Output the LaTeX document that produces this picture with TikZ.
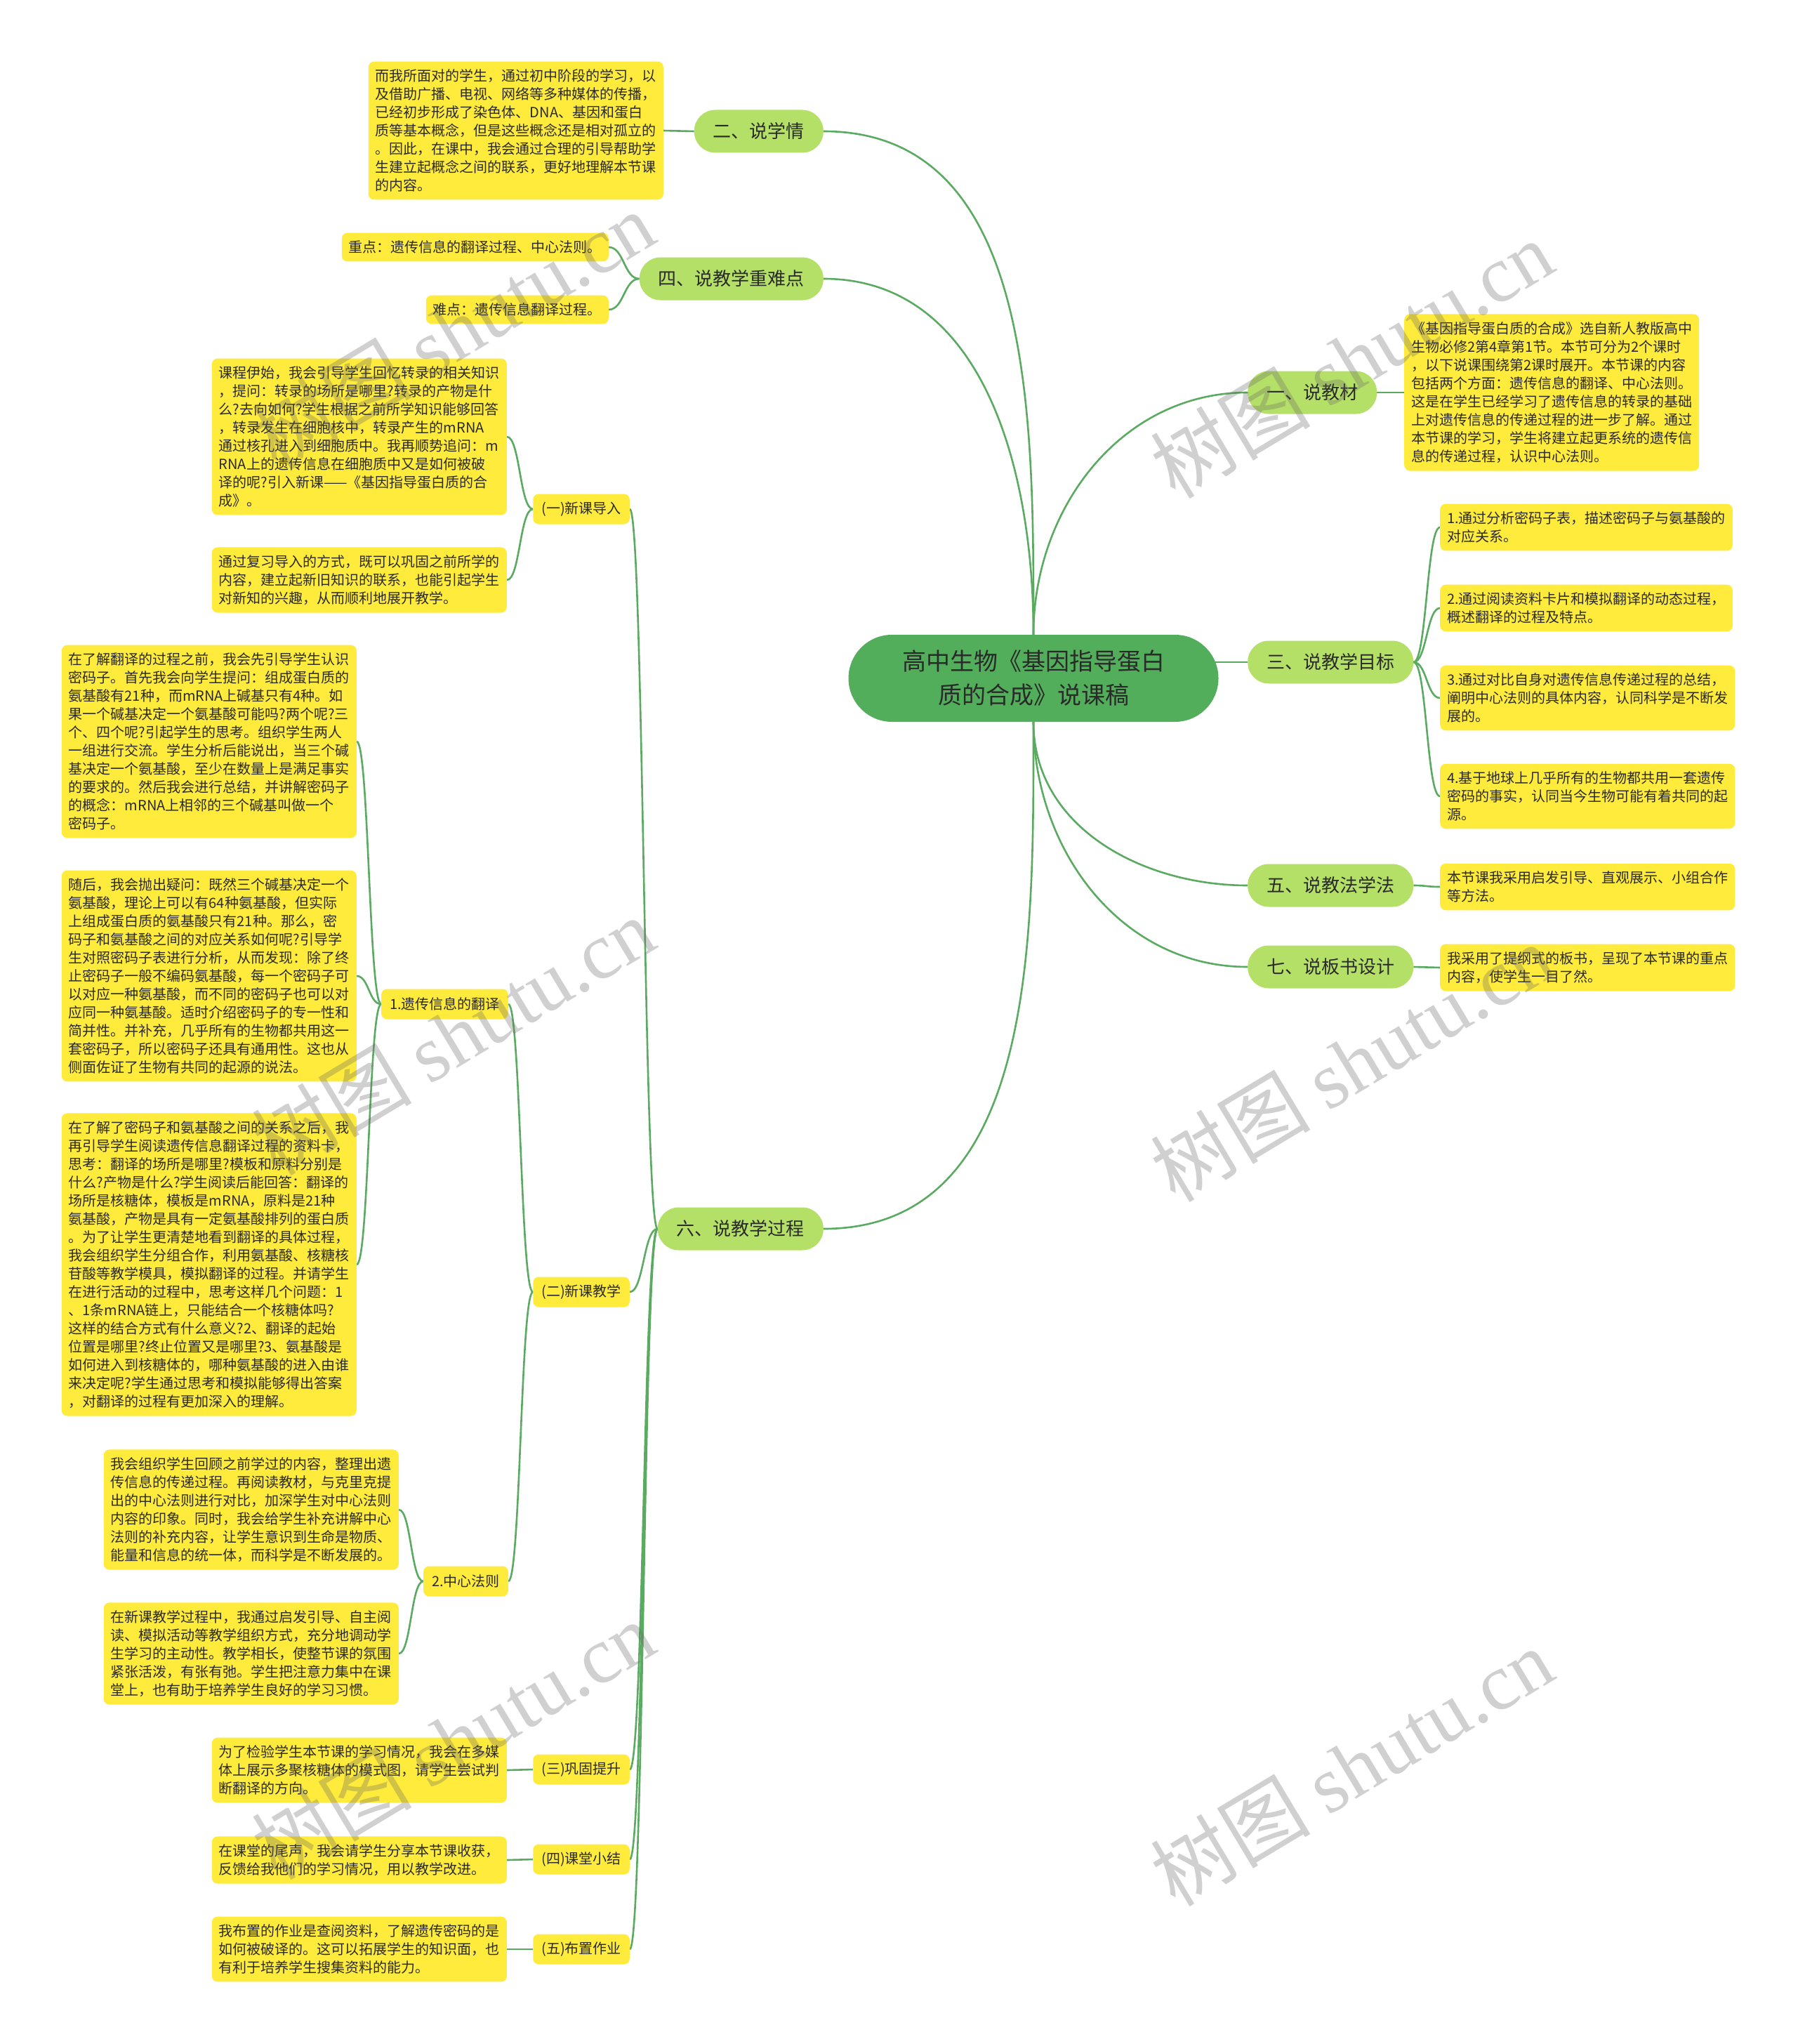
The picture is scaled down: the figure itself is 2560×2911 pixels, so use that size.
\documentclass[tikz,border=0pt]{standalone}
\usepackage{fontspec}
\setmainfont{Noto Sans CJK SC}
\newfontfamily\wmlatin{Liberation Serif}
\usetikzlibrary{calc}
\definecolor{rootg}{HTML}{52AE5A}
\definecolor{lgreen}{HTML}{B5E068}
\definecolor{yel}{HTML}{FFEB3B}
\definecolor{linkc}{HTML}{5AAA62}
\definecolor{txt}{HTML}{2A2A2A}
\pgfdeclarelayer{bg}
\pgfsetlayers{bg,main}
\newcommand\mmlink[2]{\draw[link] let \p1=(#1), \p2=(#2) in (\p1) .. controls ({(\x1+\x2)/2},\y1) and ({(\x1+\x2)/2},\y2) .. (\p2);}
\begin{document}
\begin{tikzpicture}[x=1pt,y=-1pt,
  root/.style={fill=rootg, rounded corners=62pt, minimum width=527pt, minimum height=124pt, align=center, text=txt, font=\fontsize{34}{48}\selectfont},
  lvone/.style={fill=lgreen, rounded corners=30pt, minimum height=61pt, inner xsep=27pt, text=txt, font=\fontsize{26}{30}\selectfont},
  lvtwo/.style={fill=yel, rounded corners=8pt, minimum height=43pt, inner xsep=12pt, text=txt, font=\fontsize{20}{26}\selectfont},
  leaf/.style={fill=yel, rounded corners=8pt, inner xsep=10pt, inner ysep=11pt, align=left, text=txt, font=\fontsize{20}{26}\selectfont},
  link/.style={draw=linkc, line width=2.6pt},
  wm/.style={text=black!60, text opacity=0.3, font=\fontsize{114}{118}\selectfont, rotate=31}
]
\useasboundingbox (0,0) rectangle (2560,2911);

% root
\node[root] (root) at (1472,966) {高中生物《基因指导蛋白\\质的合成》说课稿};

% level one
\node[lvone, anchor=east] (n2) at (1173,187) {二、说学情};
\node[lvone, anchor=east] (n4) at (1173,397) {四、说教学重难点};
\node[lvone, anchor=east] (n6) at (1173,1750) {六、说教学过程};
\node[lvone, anchor=west] (n1) at (1777,559) {一、说教材};
\node[lvone, anchor=west] (n3) at (1777,943) {三、说教学目标};
\node[lvone, anchor=west] (n5) at (1777,1261) {五、说教法学法};
\node[lvone, anchor=west] (n7) at (1777,1377) {七、说板书设计};

% 二
\node[leaf, anchor=east] (a1) at (945,186) {而我所面对的学生，通过初中阶段的学习，以\\及借助广播、电视、网络等多种媒体的传播，\\已经初步形成了染色体、DNA、基因和蛋白\\质等基本概念，但是这些概念还是相对孤立的\\。因此，在课中，我会通过合理的引导帮助学\\生建立起概念之间的联系，更好地理解本节课\\的内容。};

% 四
\node[leaf, anchor=east] (b1) at (867,352) {重点：遗传信息的翻译过程、中心法则。};
\node[leaf, anchor=east] (b2) at (867,441) {难点：遗传信息翻译过程。};

% 六 level two
\node[lvtwo, anchor=east] (s1) at (897,725) {(一)新课导入};
\node[lvtwo, anchor=east] (s2) at (897,1840) {(二)新课教学};
\node[lvtwo, anchor=east] (s3) at (897,2520) {(三)巩固提升};
\node[lvtwo, anchor=east] (s4) at (897,2648) {(四)课堂小结};
\node[lvtwo, anchor=east] (s5) at (897,2776) {(五)布置作业};
\node[lvtwo, anchor=east] (t1) at (724,1430) {1.遗传信息的翻译};
\node[lvtwo, anchor=east] (t2) at (724,2252) {2.中心法则};

% (一)
\node[leaf, anchor=east] (c1) at (722,622) {课程伊始，我会引导学生回忆转录的相关知识\\，提问：转录的场所是哪里?转录的产物是什\\么?去向如何?学生根据之前所学知识能够回答\\，转录发生在细胞核中，转录产生的mRNA\\通过核孔进入到细胞质中。我再顺势追问：m\\RNA上的遗传信息在细胞质中又是如何被破\\译的呢?引入新课——《基因指导蛋白质的合\\成》。};
\node[leaf, anchor=east] (c2) at (722,826) {通过复习导入的方式，既可以巩固之前所学的\\内容，建立起新旧知识的联系，也能引起学生\\对新知的兴趣，从而顺利地展开教学。};

% 1.
\node[leaf, anchor=east] (d1) at (508,1056) {在了解翻译的过程之前，我会先引导学生认识\\密码子。首先我会向学生提问：组成蛋白质的\\氨基酸有21种，而mRNA上碱基只有4种。如\\果一个碱基决定一个氨基酸可能吗?两个呢?三\\个、四个呢?引起学生的思考。组织学生两人\\一组进行交流。学生分析后能说出，当三个碱\\基决定一个氨基酸，至少在数量上是满足事实\\的要求的。然后我会进行总结，并讲解密码子\\的概念：mRNA上相邻的三个碱基叫做一个\\密码子。};
\node[leaf, anchor=east] (d2) at (508,1390) {随后，我会抛出疑问：既然三个碱基决定一个\\氨基酸，理论上可以有64种氨基酸，但实际\\上组成蛋白质的氨基酸只有21种。那么，密\\码子和氨基酸之间的对应关系如何呢?引导学\\生对照密码子表进行分析，从而发现：除了终\\止密码子一般不编码氨基酸，每一个密码子可\\以对应一种氨基酸，而不同的密码子也可以对\\应同一种氨基酸。适时介绍密码子的专一性和\\简并性。并补充，几乎所有的生物都共用这一\\套密码子，所以密码子还具有通用性。这也从\\侧面佐证了生物有共同的起源的说法。};
\node[leaf, anchor=east] (d3) at (508,1801) {在了解了密码子和氨基酸之间的关系之后，我\\再引导学生阅读遗传信息翻译过程的资料卡，\\思考：翻译的场所是哪里?模板和原料分别是\\什么?产物是什么?学生阅读后能回答：翻译的\\场所是核糖体，模板是mRNA，原料是21种\\氨基酸，产物是具有一定氨基酸排列的蛋白质\\。为了让学生更清楚地看到翻译的具体过程，\\我会组织学生分组合作，利用氨基酸、核糖核\\苷酸等教学模具，模拟翻译的过程。并请学生\\在进行活动的过程中，思考这样几个问题：1\\、1条mRNA链上，只能结合一个核糖体吗?\\这样的结合方式有什么意义?2、翻译的起始\\位置是哪里?终止位置又是哪里?3、氨基酸是\\如何进入到核糖体的，哪种氨基酸的进入由谁\\来决定呢?学生通过思考和模拟能够得出答案\\，对翻译的过程有更加深入的理解。};

% 2.
\node[leaf, anchor=east] (e1) at (568,2150) {我会组织学生回顾之前学过的内容，整理出遗\\传信息的传递过程。再阅读教材，与克里克提\\出的中心法则进行对比，加深学生对中心法则\\内容的印象。同时，我会给学生补充讲解中心\\法则的补充内容，让学生意识到生命是物质、\\能量和信息的统一体，而科学是不断发展的。};
\node[leaf, anchor=east] (e2) at (568,2355) {在新课教学过程中，我通过启发引导、自主阅\\读、模拟活动等教学组织方式，充分地调动学\\生学习的主动性。教学相长，使整节课的氛围\\紧张活泼，有张有弛。学生把注意力集中在课\\堂上，也有助于培养学生良好的学习习惯。};

% (三)(四)(五)
\node[leaf, anchor=east] (f1) at (722,2521) {为了检验学生本节课的学习情况，我会在多媒\\体上展示多聚核糖体的模式图，请学生尝试判\\断翻译的方向。};
\node[leaf, anchor=east] (f2) at (722,2649) {在课堂的尾声，我会请学生分享本节课收获，\\反馈给我他们的学习情况，用以教学改进。};
\node[leaf, anchor=east] (f3) at (722,2776) {我布置的作业是查阅资料，了解遗传密码的是\\如何被破译的。这可以拓展学生的知识面，也\\有利于培养学生搜集资料的能力。};

% right leaves
\node[leaf, anchor=west] (g1) at (2000,559) {《基因指导蛋白质的合成》选自新人教版高中\\生物必修2第4章第1节。本节可分为2个课时\\，以下说课围绕第2课时展开。本节课的内容\\包括两个方面：遗传信息的翻译、中心法则。\\这是在学生已经学习了遗传信息的转录的基础\\上对遗传信息的传递过程的进一步了解。通过\\本节课的学习，学生将建立起更系统的遗传信\\息的传递过程，认识中心法则。};
\node[leaf, anchor=west] (h1) at (2051,751) {1.通过分析密码子表，描述密码子与氨基酸的\\对应关系。};
\node[leaf, anchor=west] (h2) at (2051,866) {2.通过阅读资料卡片和模拟翻译的动态过程，\\概述翻译的过程及特点。};
\node[leaf, anchor=west] (h3) at (2051,994) {3.通过对比自身对遗传信息传递过程的总结，\\阐明中心法则的具体内容，认同科学是不断发\\展的。};
\node[leaf, anchor=west] (h4) at (2051,1134) {4.基于地球上几乎所有的生物都共用一套遗传\\密码的事实，认同当今生物可能有着共同的起\\源。};
\node[leaf, anchor=west] (k1) at (2051,1263) {本节课我采用启发引导、直观展示、小组合作\\等方法。};
\node[leaf, anchor=west] (m1) at (2051,1378) {我采用了提纲式的板书，呈现了本节课的重点\\内容，使学生一目了然。};

\begin{pgfonlayer}{bg}
\fill[white] (0,0) rectangle (2560,2911);
% root links
\draw[link] (root.north) to[out=90,in=0] (n2.east);
\draw[link] (root.north) to[out=90,in=0] (n4.east);
\draw[link] (root.south) to[out=-90,in=0] (n6.east);
\draw[link] (root.north) to[out=90,in=180] (n1.west);
\draw[link] (n3.west) -- ([xshift=-10pt]n3.west -| root.east);
\draw[link] (root.south) to[out=-90,in=180] (n5.west);
\draw[link] (root.south) to[out=-90,in=180] (n7.west);
% branches
\mmlink{n2.west}{a1.east}
\mmlink{n4.west}{b1.east}
\mmlink{n4.west}{b2.east}
\mmlink{n6.west}{s1.east}
\mmlink{n6.west}{s2.east}
\mmlink{n6.west}{s3.east}
\mmlink{n6.west}{s4.east}
\mmlink{n6.west}{s5.east}
\mmlink{s1.west}{c1.east}
\mmlink{s1.west}{c2.east}
\mmlink{s2.west}{t1.east}
\mmlink{s2.west}{t2.east}
\mmlink{t1.west}{d1.east}
\mmlink{t1.west}{d2.east}
\mmlink{t1.west}{d3.east}
\mmlink{t2.west}{e1.east}
\mmlink{t2.west}{e2.east}
\mmlink{s3.west}{f1.east}
\mmlink{s4.west}{f2.east}
\mmlink{s5.west}{f3.east}
\mmlink{n1.east}{g1.west}
\mmlink{n3.east}{h1.west}
\mmlink{n3.east}{h2.west}
\mmlink{n3.east}{h3.west}
\mmlink{n3.east}{h4.west}
\mmlink{n5.east}{k1.west}
\mmlink{n7.east}{m1.west}
\end{pgfonlayer}

% watermarks
\node[wm] (w1) at (645,470) {树图 {\wmlatin shutu.cn}};
\node[wm] (w2) at (645,1475) {树图 {\wmlatin shutu.cn}};
\node[wm] (w3) at (645,2478) {树图 {\wmlatin shutu.cn}};
\node[wm] (w4) at (1925,511) {树图 {\wmlatin shutu.cn}};
\node[wm] (w5) at (1925,1513) {树图 {\wmlatin shutu.cn}};
\node[wm] (w6) at (1925,2516) {树图 {\wmlatin shutu.cn}};
\end{tikzpicture}
\end{document}
